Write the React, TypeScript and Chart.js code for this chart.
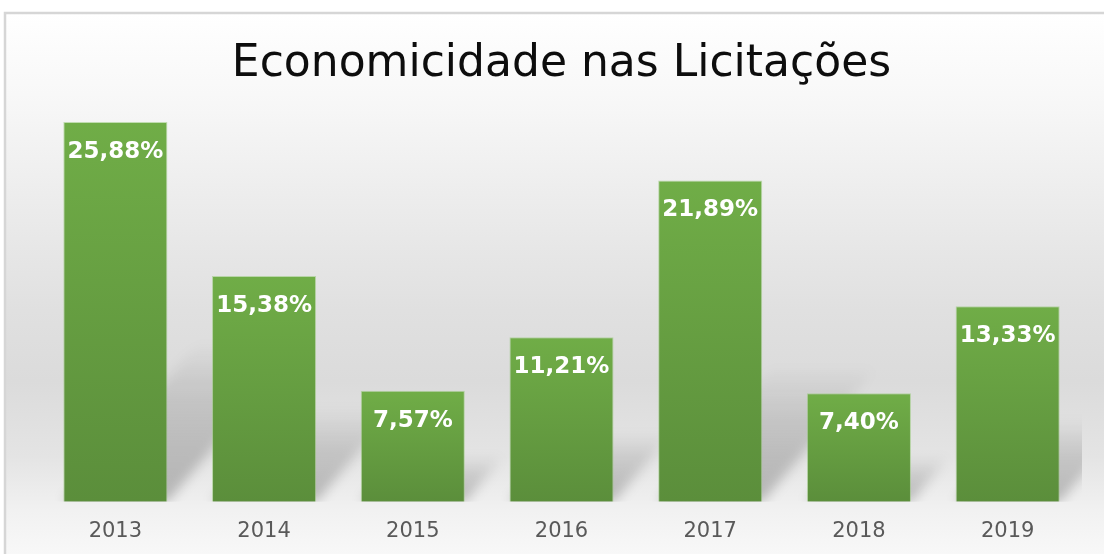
import React, { useEffect, useRef } from "react";
import { Chart, registerables } from "chart.js";

Chart.register(...registerables);

const categories = ["2013", "2014", "2015", "2016", "2017", "2018", "2019"];
const values = [25.88, 15.38, 7.57, 11.21, 21.89, 7.4, 13.33];
const titleText = "Economicidade nas Licitações";
const yMax = 28;

const fmt = (v: number) => v.toFixed(2).replace(".", ",") + "%";

const backgroundPlugin = {
  id: "bgFrame",
  beforeDraw(chart: any) {
    const ctx = chart.ctx;
    const w = chart.width;
    const h = chart.height;
    ctx.save();
    ctx.fillStyle = "#ffffff";
    ctx.fillRect(0, 0, w, h);
    const g = ctx.createLinearGradient(0, 13, 0, h);
    g.addColorStop(0, "#ffffff");
    g.addColorStop(0.15, "#f8f8f8");
    g.addColorStop(0.35, "#ececec");
    g.addColorStop(0.55, "#e0e0e0");
    g.addColorStop(0.68, "#dbdbdb");
    g.addColorStop(0.82, "#e4e4e4");
    g.addColorStop(0.92, "#f1f1f1");
    g.addColorStop(1, "#f8f8f8");
    ctx.fillStyle = g;
    ctx.fillRect(5, 13, w, h);
    ctx.strokeStyle = "#d6d6d6";
    ctx.lineWidth = 2.5;
    ctx.strokeRect(5, 13, w + 20, h + 20);
    ctx.restore();
  },
};

const shadowPlugin = {
  id: "barShadows",
  beforeDatasetsDraw(chart: any) {
    const ctx = chart.ctx;
    const area = chart.chartArea;
    const meta = chart.getDatasetMeta(0);
    ctx.save();
    ctx.beginPath();
    ctx.rect(area.left, area.top, area.right - area.left, area.bottom - area.top);
    ctx.clip();
    ctx.filter = "blur(6px)";
    meta.data.forEach((el: any) => {
      const p = el.getProps(["x", "y", "base", "width"], true);
      const x0 = p.x - p.width / 2;
      const x1 = p.x + p.width / 2;
      const hgt = p.base - p.y;
      const sh = hgt * 0.42;
      const dx = sh * 0.85;
      const g = ctx.createLinearGradient(0, p.base, 0, p.base - sh);
      g.addColorStop(0, "rgba(0,0,0,0.24)");
      g.addColorStop(0.6, "rgba(0,0,0,0.12)");
      g.addColorStop(1, "rgba(0,0,0,0)");
      ctx.fillStyle = g;
      ctx.beginPath();
      ctx.moveTo(x0, p.base);
      ctx.lineTo(x1, p.base);
      ctx.lineTo(x1 + dx, p.base - sh);
      ctx.lineTo(x0 + dx, p.base - sh);
      ctx.closePath();
      ctx.fill();
    });
    ctx.restore();
  },
};

const labelPlugin = {
  id: "barLabels",
  afterDatasetsDraw(chart: any) {
    const ctx = chart.ctx;
    const meta = chart.getDatasetMeta(0);
    ctx.save();
    ctx.font = 'bold 23px "DejaVu Sans"';
    ctx.fillStyle = "#ffffff";
    ctx.textAlign = "center";
    ctx.textBaseline = "middle";
    meta.data.forEach((el: any, i: number) => {
      const p = el.getProps(["x", "y"], true);
      ctx.fillText(fmt(values[i]), p.x, p.y + 30);
    });
    ctx.restore();
  },
};

export default function App() {
  const ref = useRef<HTMLCanvasElement | null>(null);

  useEffect(() => {
    if (!ref.current) return;
    const chart = new Chart(ref.current, {
      type: "bar",
      data: {
        labels: categories,
        datasets: [
          {
            data: values,
            backgroundColor: (c: any) => {
              const ch = c.chart;
              const ys = ch.scales && ch.scales.y;
              if (!ch.chartArea || !ys || c.type !== "data") return "#66a040";
              const top = ys.getPixelForValue(c.raw);
              const bottom = ys.getPixelForValue(0);
              const g = ch.ctx.createLinearGradient(0, top, 0, bottom);
              g.addColorStop(0, "#70ad47");
              g.addColorStop(1, "#5b8e3b");
              return g;
            },
            borderColor: "rgba(150,200,120,0.55)",
            borderWidth: 1,
            barPercentage: 0.7,
            categoryPercentage: 1,
          },
        ],
      },
      options: {
        responsive: false,
        animation: false,
        layout: { padding: { left: 41, right: 22, top: 0, bottom: -7 } },
        plugins: {
          legend: { display: false },
          tooltip: { enabled: false },
          title: {
            display: true,
            text: titleText,
            color: "#0d0d0d",
            font: { family: "DejaVu Sans", size: 44, weight: "normal" },
            padding: { top: 38, bottom: 0 },
          },
        },
        scales: {
          x: {
            grid: { display: false, drawTicks: false },
            border: { display: false },
            ticks: {
              color: "#595959",
              font: { family: "DejaVu Sans", size: 21 },
              padding: 17,
            },
          },
          y: {
            display: false,
            min: 0,
            max: yMax,
          },
        },
      },
      plugins: [backgroundPlugin, shadowPlugin, labelPlugin],
    });
    return () => chart.destroy();
  }, []);

  return (
    <div style={{ position: "absolute", left: 0, top: 0, width: 1104, height: 554 }}>
      <canvas ref={ref} width={1104} height={554} />
    </div>
  );
}
